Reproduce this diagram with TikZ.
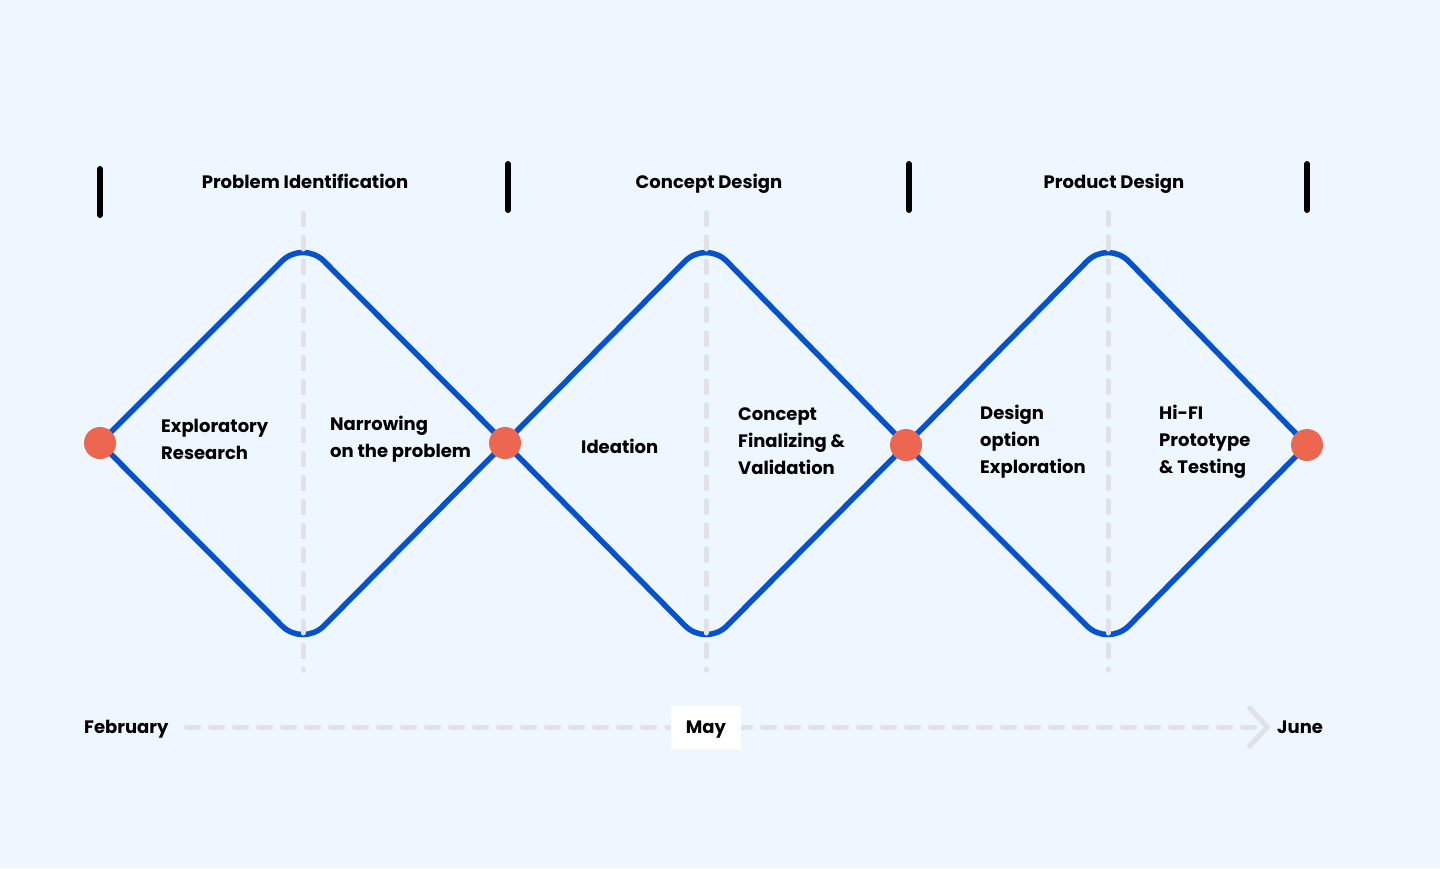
\documentclass[tikz,border=0pt]{standalone}
\usepackage{fontspec}
\setmainfont{Poppins}
\usetikzlibrary{arrows.meta}
\definecolor{bg}{HTML}{EEF6FF}
\definecolor{dblue}{HTML}{0652CC}
\definecolor{dotc}{HTML}{EC6650}
\definecolor{dgray}{HTML}{E0E2E5}
\begin{document}
\begin{tikzpicture}[x=1pt,y=-1pt,
  diam/.style={draw=dblue, line width=5.5pt, rounded corners=30pt, line cap=round, line join=round},
  guide/.style={draw=dgray, line width=5pt, dash pattern=on 12pt off 12pt, line cap=round},
  bar/.style={line width=6pt, line cap=round},
  dotn/.style={circle, fill=dotc, minimum size=32pt, inner sep=0pt},
  lbl/.style={font=\fontsize{18}{27}\selectfont\bfseries, align=left, anchor=west, inner sep=0pt},
  one/.style={font=\fontsize{18}{20}\selectfont\bfseries, inner sep=0pt, text height=13pt, text depth=0pt},
  ttl/.style={one}]
\fill[bg] (0,0) rectangle (1440,868);
\useasboundingbox (0,0) rectangle (1440,868);
% vertices
\coordinate (p1) at (100,443);
\coordinate (p2) at (505,443);
\coordinate (p3) at (906,445);
\coordinate (p4) at (1307,445);
\coordinate (t1) at (303,240);
\coordinate (b1) at (303,647);
\coordinate (t2) at (706,240);
\coordinate (b2) at (706,647);
\coordinate (t3) at (1108,240);
\coordinate (b3) at (1108,647);
% diamonds
\draw[diam] (p1) -- (t1) -- (p2);
\draw[diam] (p1) -- (b1) -- (p2);
\draw[diam] (p2) -- (t2) -- (p3);
\draw[diam] (p2) -- (b2) -- (p3);
\draw[diam] (p3) -- (t3) -- (p4);
\draw[diam] (p3) -- (b3) -- (p4);
% guides
\coordinate (g1a) at (303,213); \coordinate (g1b) at (303,670);
\coordinate (g2a) at (706,213); \coordinate (g2b) at (706,670);
\coordinate (g3a) at (1108,213); \coordinate (g3b) at (1108,670);
\draw[guide] (g1a) -- (g1b);
\draw[guide] (g2a) -- (g2b);
\draw[guide] (g3a) -- (g3b);
% dots
\node[dotn] (d1) at (p1) {};
\node[dotn] (d2) at (p2) {};
\node[dotn] (d3) at (p3) {};
\node[dotn] (d4) at (p4) {};
% bars
\coordinate (k1a) at (100,169); \coordinate (k1b) at (100,215);
\coordinate (k2a) at (508,164); \coordinate (k2b) at (508,210);
\coordinate (k3a) at (909,164); \coordinate (k3b) at (909,210);
\coordinate (k4a) at (1307,164); \coordinate (k4b) at (1307,210);
\draw[bar] (k1a) -- (k1b);
\draw[bar] (k2a) -- (k2b);
\draw[bar] (k3a) -- (k3b);
\draw[bar] (k4a) -- (k4b);
% titles
\node[ttl] (h1) at (305,182) {Problem Identification};
\node[ttl] (h2) at (709,182) {Concept Design};
\node[ttl] (h3) at (1114,182) {Product Design};
% labels
\node[lbl] (l1) at (161,439.5) {Exploratory\\Research};
\node[lbl] (l2) at (330,439.5) {Narrowing\\on the problem};
\node[lbl] (l3) at (581,446) {Ideation};
\node[lbl] (l4) at (738,441.5) {Concept\\Finalizing \&\\Validation};
\node[lbl] (l5) at (980,441.5) {Design\\option\\Exploration};
\node[lbl] (l6) at (1159,441.5) {Hi-FI\\Prototype\\\& Testing};
% timeline
\node[one, anchor=west] (feb) at (84,727) {February};
\node[one, anchor=west] (jun) at (1277,727) {June};
\draw[guide, -{Straight Barb[length=18pt,width=38pt,round]}] ([xshift=18pt]feb.east) -- ([xshift=-7pt]jun.west);
\node[one, fill=white, minimum width=70pt, minimum height=43pt] (may) at (706,727) {May};
\end{tikzpicture}
\end{document}
